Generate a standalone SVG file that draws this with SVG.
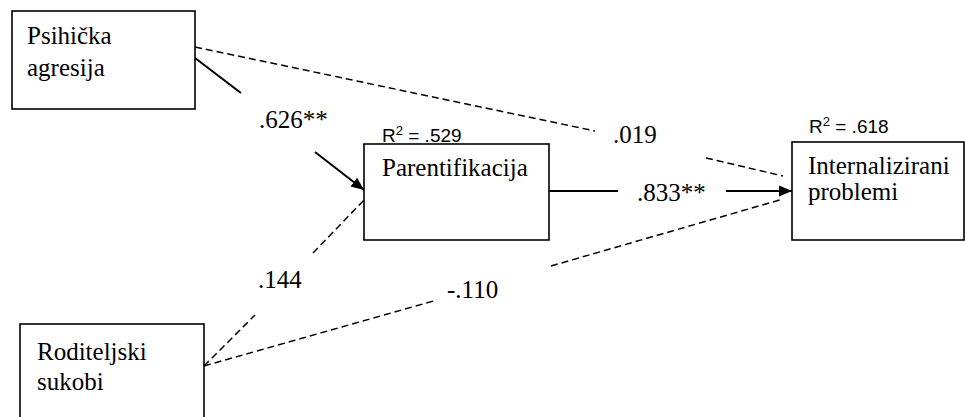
<svg xmlns="http://www.w3.org/2000/svg" width="965" height="417" viewBox="0 0 965 417">
  <style>
    .box { fill: #ffffff; stroke: #000000; stroke-width: 1.6; }
    .lbl { font-family: "Liberation Serif", "Times New Roman", serif; font-size: 25px; fill: #000000; }
    .r2 { font-family: "Liberation Sans", Arial, sans-serif; font-size: 19px; fill: #000000; }
    .solid { stroke: #000000; stroke-width: 2; fill: none; }
    .dash { stroke: #000000; stroke-width: 1.5; fill: none; stroke-dasharray: 7 4; }
  </style>
  <defs>
    <marker id="arrow" markerUnits="userSpaceOnUse" markerWidth="14" markerHeight="12" refX="13" refY="6" orient="auto">
      <path d="M0,0.5 L13,6 L0,11.5 Z" fill="#000000"/>
    </marker>
  </defs>
  <rect width="965" height="417" fill="#ffffff"/>

  <g id="connectors">
    <!-- Psihicka agresija -> Parentifikacija -->
    <line class="solid" x1="195" y1="58" x2="241" y2="93"/>
    <line class="solid" x1="315" y1="152" x2="364" y2="190" marker-end="url(#arrow)"/>
    <!-- Psihicka agresija -> Internalizirani problemi -->
    <line class="dash" x1="195" y1="47" x2="595" y2="131"/>
    <line class="dash" x1="706" y1="158" x2="783" y2="176"/>
    <!-- Parentifikacija -> Internalizirani problemi -->
    <line class="solid" x1="549" y1="191" x2="618" y2="191"/>
    <line class="solid" x1="726" y1="191" x2="792" y2="191" marker-end="url(#arrow)"/>
    <!-- Roditeljski sukobi -> Parentifikacija -->
    <line class="dash" x1="204" y1="366" x2="255" y2="315"/>
    <line class="dash" x1="313" y1="253" x2="364" y2="200"/>
    <!-- Roditeljski sukobi -> Internalizirani problemi -->
    <line class="dash" x1="204" y1="366" x2="437" y2="300"/>
    <line class="dash" x1="551" y1="266" x2="783" y2="199"/>
    <!-- path labels -->
    <text class="lbl" x="259" y="128">.626**</text>
    <text class="lbl" x="613" y="143">.019</text>
    <text class="lbl" x="637" y="201">.833**</text>
    <text class="lbl" x="258" y="288">.144</text>
    <text class="lbl" x="447" y="298">-.110</text>
  </g>

  <g id="psihicka-agresija">
    <rect class="box" x="12" y="11" width="183" height="98"/>
    <text class="lbl" x="27" y="44">Psihička</text>
    <text class="lbl" x="27" y="76">agresija</text>
  </g>

  <g id="parentifikacija">
    <text class="r2" x="382" y="142">R<tspan font-size="13" dy="-7">2</tspan><tspan dy="7"> = .529</tspan></text>
    <rect class="box" x="364" y="144" width="185" height="96"/>
    <text class="lbl" x="382" y="176">Parentifikacija</text>
  </g>

  <g id="internalizirani-problemi">
    <text class="r2" x="809" y="133">R<tspan font-size="13" dy="-7">2</tspan><tspan dy="7"> = .618</tspan></text>
    <rect class="box" x="792" y="142" width="172" height="98"/>
    <text class="lbl" x="808" y="174">Internalizirani</text>
    <text class="lbl" x="808" y="200">problemi</text>
  </g>

  <g id="roditeljski-sukobi">
    <rect class="box" x="20" y="324" width="184" height="110"/>
    <text class="lbl" x="37" y="360">Roditeljski</text>
    <text class="lbl" x="37" y="390">sukobi</text>
  </g>
</svg>
